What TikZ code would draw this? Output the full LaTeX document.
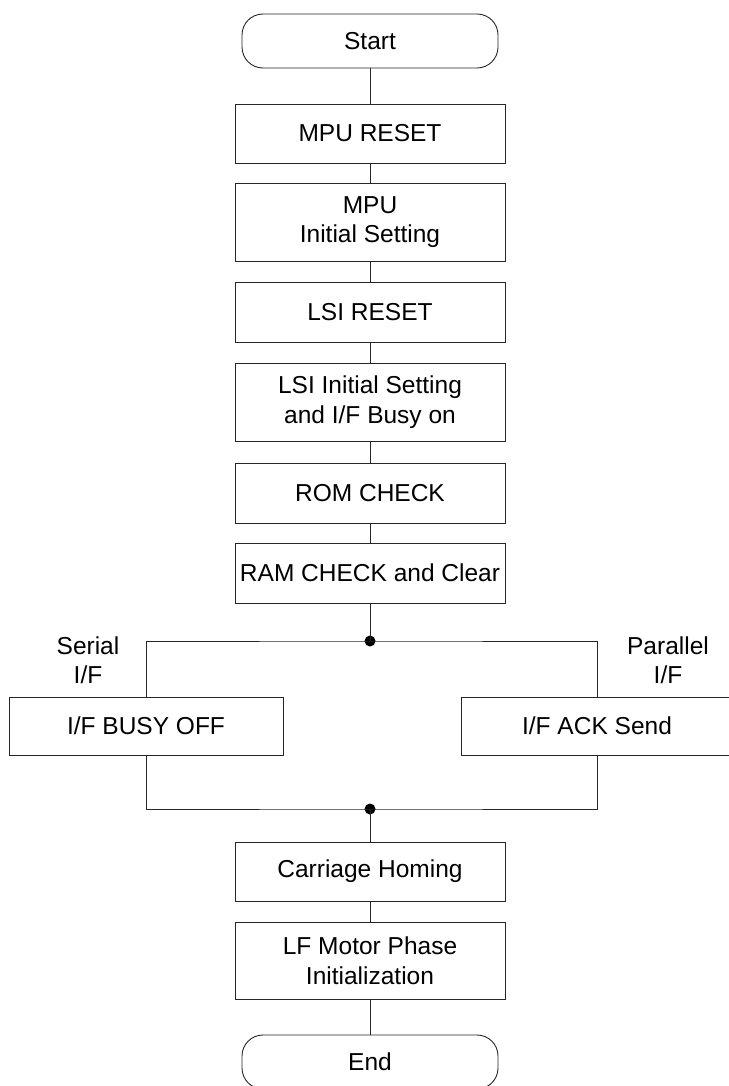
\documentclass[tikz,border=0pt]{standalone}
\usepackage{fontspec}
\setmainfont{Liberation Sans}
\begin{document}
\begin{tikzpicture}[x=1pt,y=-1pt,
  every node/.style={font=\fontsize{24.5}{29.5}\selectfont, text=black},
  line/.style={draw=black!85, line width=0.9pt},
  proc/.style={line, rectangle, minimum width=270pt, align=center, inner sep=0pt},
  term/.style={line, rectangle, rounded corners=21pt, minimum width=256pt, minimum height=54pt, inner sep=0pt},
  side/.style={line, rectangle, minimum height=58pt, align=center, inner sep=0pt},
  lbl/.style={align=center, inner sep=0pt},
  dotn/.style={circle, fill=black, inner sep=0pt, minimum size=11pt}]
\useasboundingbox (0,0) rectangle (728,1086);
\node[term] (start) at (370,41) {Start};
\node[proc, minimum height=59pt] (mpur) at (370,133.5) {MPU RESET};
\node[proc, minimum height=78pt] (mpui) at (370,222) {MPU\\Initial Setting};
\node[proc, minimum height=60pt] (lsir) at (370,312) {LSI RESET};
\node[proc, minimum height=78pt] (lsii) at (370,402) {LSI Initial Setting\\and I/F Busy on};
\node[proc, minimum height=60pt] (rom) at (370,493) {ROM CHECK};
\node[proc, minimum height=60pt] (ram) at (370,573) {RAM CHECK and Clear};
\node[dotn] (j1) at (370,641) {};
\node[side, minimum width=274pt] (busy) at (146,726) {I/F BUSY OFF};
\node[side, minimum width=272pt] (ack) at (597,726) {I/F ACK Send};
\node[lbl] (serial) at (88,660) {Serial\\I/F};
\node[lbl] (parallel) at (668,660) {Parallel\\I/F};
\node[dotn] (j2) at (370,809) {};
\node[proc, minimum height=59pt] (home) at (370,871.5) {Carriage Homing};
\node[proc, minimum height=77pt] (lf) at (370,960.5) {LF Motor Phase\\Initialization};
\node[term] (end) at (370,1062) {End};
\draw[line] (start) -- (mpur);
\draw[line] (mpur) -- (mpui);
\draw[line] (mpui) -- (lsir);
\draw[line] (lsir) -- (lsii);
\draw[line] (lsii) -- (rom);
\draw[line] (rom) -- (ram);
\draw[line] (ram) -- (j1.center);
\draw[line] (busy.north) |- (j1.center) -| (ack.north);
\draw[line] (busy.south) |- (j2.center) -| (ack.south);
\draw[line] (j2.center) -- (home);
\draw[line] (home) -- (lf);
\draw[line] (lf) -- (end);
\end{tikzpicture}
\end{document}
